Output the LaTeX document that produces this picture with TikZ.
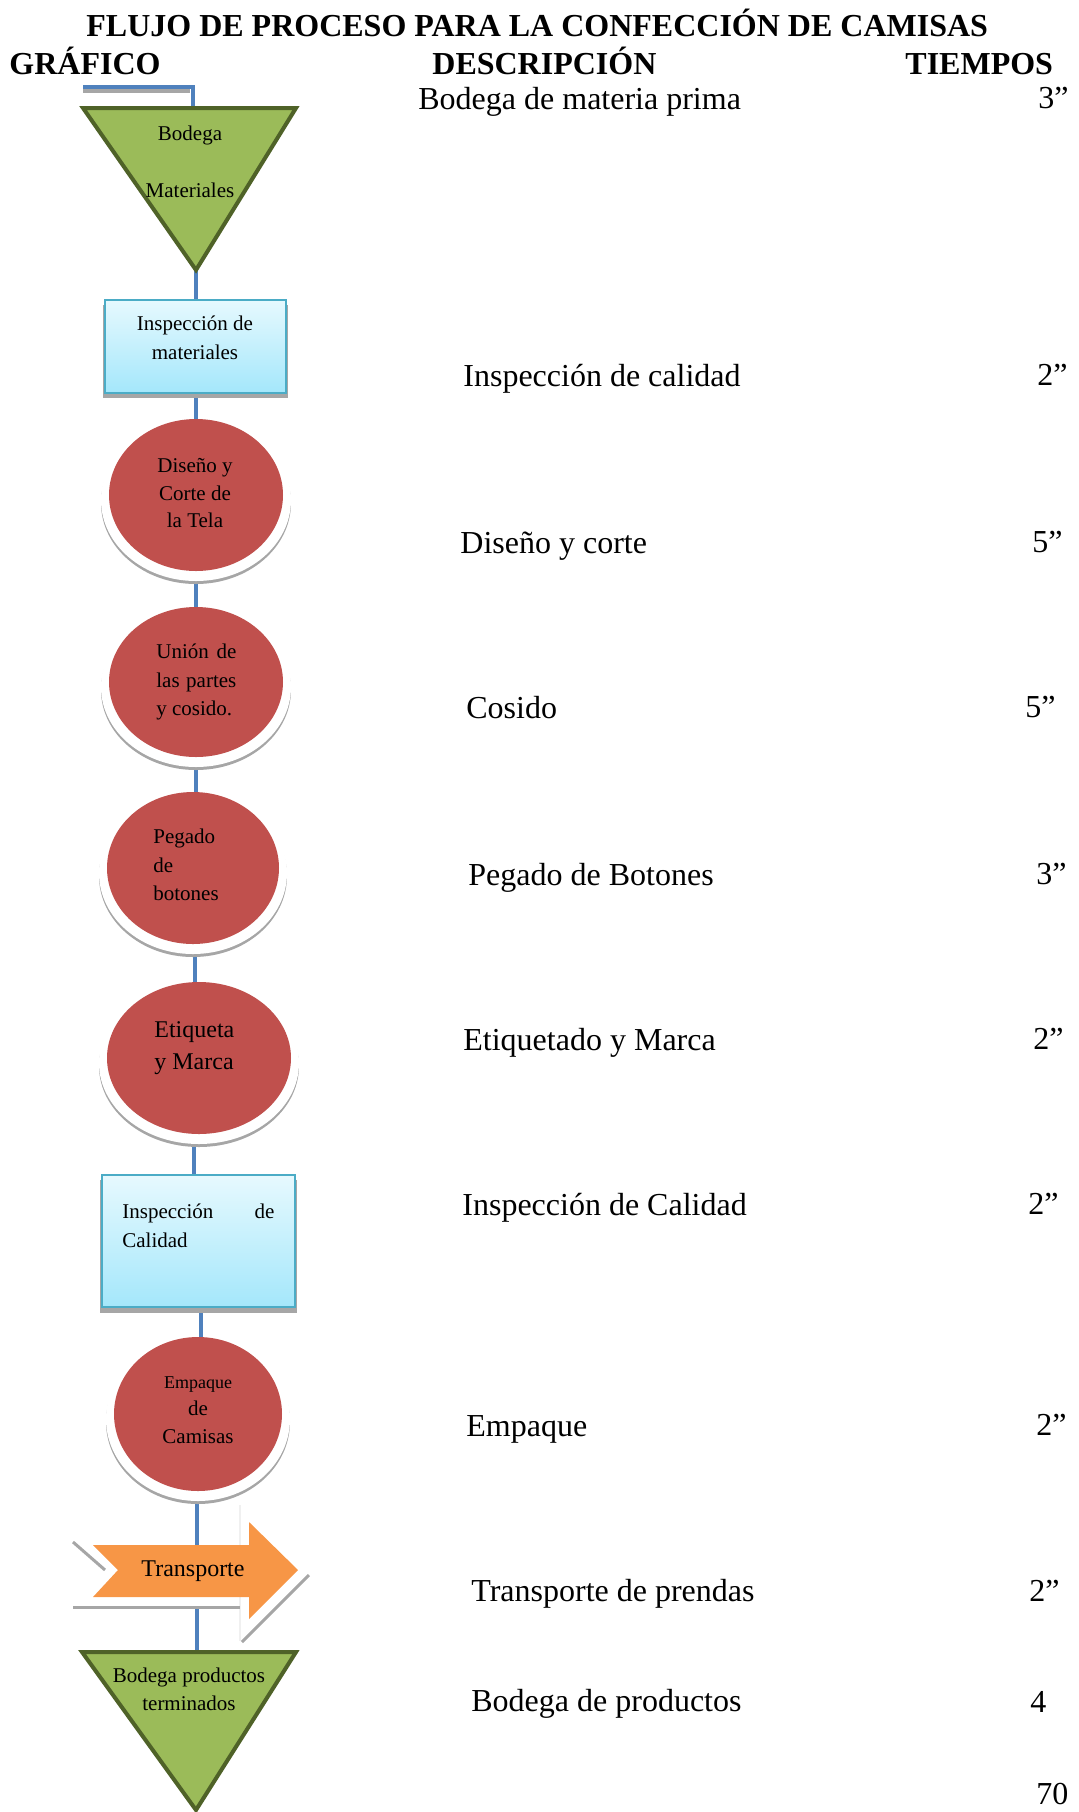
\documentclass[tikz,border=0pt]{standalone}
\usepackage{fontspec}
\setmainfont{Liberation Serif}
\usetikzlibrary{shapes.geometric,backgrounds,calc}
\definecolor{connblue}{HTML}{4F81BD}
\definecolor{redfill}{HTML}{C0504D}
\definecolor{greenfill}{HTML}{9BBB59}
\definecolor{greenline}{HTML}{4F6228}
\definecolor{boxline}{HTML}{4BACC6}
\definecolor{boxtop}{HTML}{E6F9FE}
\definecolor{boxbot}{HTML}{A4E7FB}
\definecolor{orangefill}{HTML}{F79646}
\definecolor{halogray}{HTML}{A6A6A6}
\newcommand\halo[4]{%
  \fill[halogray] (#1,#2+8) ellipse [x radius=#3, y radius=#4];
  \fill[white] (#1,#2+5) ellipse [x radius=#3, y radius=#4];
}
\begin{document}
\begin{tikzpicture}[x=0.5pt,y=-0.5pt,
  hdr/.style={anchor=base west, inner sep=0, font=\fontsize{16}{19}\selectfont\bfseries},
  desc/.style={anchor=base west, inner sep=0, font=\fontsize{16}{19}\selectfont},
  smallc/.style={anchor=base, inner sep=0, font=\fontsize{10.5}{13}\selectfont},
  smalll/.style={anchor=base west, inner sep=0, font=\fontsize{10.5}{13}\selectfont},
  conn/.style={draw=connblue, line width=2pt},
  redell/.style={ellipse, fill=redfill, inner sep=0, outer sep=0},
  boxst/.style={rectangle, draw=boxline, line width=1pt, top color=boxtop, bottom color=boxbot, inner sep=0, outer sep=0},
  tri/.style={fill=greenfill, draw=greenline, line width=2pt, line join=miter}
]
\useasboundingbox (0,0) rectangle (1078,1812);

% ---------- headers ----------
\node[hdr] (title) at (86,36) {FLUJO DE PROCESO PARA LA CONFECCIÓN DE CAMISAS};
\node[hdr] (hg) at (9,74) {GRÁFICO};
\node[hdr] (hd) at (432,74) {DESCRIPCIÓN};
\node[hdr] (ht) at (905,74) {TIEMPOS};

% ---------- descriptions and times ----------
\node[desc] (d1) at (418,109) {Bodega de materia prima};
\node[desc] (s1) at (1038,108) {3”};
\node[desc] (d2) at (463,386) {Inspección de calidad};
\node[desc] (s2) at (1037,385) {2”};
\node[desc] (d3) at (460,553) {Diseño y corte};
\node[desc] (s3) at (1032,552) {5”};
\node[desc] (d4) at (466,718) {Cosido};
\node[desc] (s4) at (1025,717) {5”};
\node[desc] (d5) at (468,885) {Pegado de Botones};
\node[desc] (s5) at (1036,884) {3”};
\node[desc] (d6) at (463,1050) {Etiquetado y Marca};
\node[desc] (s6) at (1033,1049) {2”};
\node[desc] (d7) at (462,1215) {Inspección de Calidad};
\node[desc] (s7) at (1028,1214) {2”};
\node[desc] (d8) at (466,1436) {Empaque};
\node[desc] (s8) at (1036,1435) {2”};
\node[desc] (d9) at (471,1601) {Transporte de prendas};
\node[desc] (s9) at (1029,1601) {2”};
\node[desc] (d10) at (471,1711) {Bodega de productos};
\node[desc] (s10) at (1030,1712) {4};
\node[desc] (tot) at (1036,1804) {70};

% ---------- triangle 1 ----------
\coordinate (start) at (83,87);
\coordinate (t1top) at (193,110);
\coordinate (t1a) at (83,108);
\coordinate (t1b) at (296,108);
\coordinate (t1c) at (196,270);
\draw[tri] (t1a) -- (t1b) -- (t1c) -- cycle;
\node[smallc] (t1l1) at (190,140) {Bodega};
\node[smallc] (t1l2) at (190,197) {Materiales};

% ---------- box 1 ----------
\fill[halogray] (103,305) rectangle (288,398);
\node[boxst, minimum width=90.5pt, minimum height=46.5pt] (b1) at (195.5,346.5) {};
\node[smallc] (b1l1) at (195,330) {Inspección de};
\node[smallc] (b1l2) at (195,359) {materiales};

% ---------- circle 1 ----------
\halo{196}{495}{47.5pt}{40.5pt}
\node[redell, minimum width=87pt, minimum height=76pt] (c1) at (196,495) {};
\node[smallc] (c1l1) at (195,472) {Diseño y};
\node[smallc] (c1l2) at (195,500) {Corte de};
\node[smallc] (c1l3) at (195,527) {la Tela};

% ---------- circle 2 ----------
\halo{196}{682}{47.5pt}{40pt}
\node[redell, minimum width=87pt, minimum height=75pt] (c2) at (196,682) {};
\node[smalll] (c2l1) at (156,658) {\makebox[40pt][s]{Unión de}};
\node[smalll] (c2l2) at (156,687) {\makebox[40pt][s]{las partes}};
\node[smalll] (c2l3) at (156,715) {y cosido.};

% ---------- circle 3 ----------
\halo{193}{868}{47pt}{40.5pt}
\node[redell, minimum width=86pt, minimum height=76pt] (c3) at (193,868) {};
\node[smalll] (c3l1) at (153,843) {Pegado};
\node[smalll] (c3l2) at (153,872) {de};
\node[smalll] (c3l3) at (153,900) {botones};

% ---------- circle 4 ----------
\halo{199}{1058}{50pt}{40.5pt}
\node[redell, minimum width=92pt, minimum height=76pt] (c4) at (199,1058) {};
\node[smalll, font=\fontsize{12}{14}\selectfont] (c4l1) at (154,1037) {Etiqueta};
\node[smalll, font=\fontsize{12}{14}\selectfont] (c4l2) at (154,1069) {y Marca};

% ---------- box 2 ----------
\fill[halogray] (100,1180) rectangle (297,1313);
\node[boxst, minimum width=96.5pt, minimum height=66pt] (b2) at (198.5,1241) {};
\node[smalll] (b2l1) at (122,1218) {\makebox[76pt][s]{Inspección de}};
\node[smalll] (b2l2) at (122,1247) {Calidad};

% ---------- circle 5 ----------
\halo{198}{1414}{46pt}{41pt}
\node[redell, minimum width=84pt, minimum height=77pt] (c5) at (198,1414) {};
\node[smallc, font=\fontsize{9}{11}\selectfont] (c5l1) at (198,1388) {Empaque};
\node[smallc] (c5l2) at (198,1415) {de};
\node[smallc] (c5l3) at (198,1443) {Camisas};

% ---------- transport arrow ----------
\draw[gray!12, line width=0.8pt] (240,1505) -- (240,1641);
\draw[halogray, line width=1.5pt] (73,1542) -- (105,1570);
\draw[halogray, line width=1.5pt] (73,1607) -- (240,1607);
\draw[halogray, line width=1.5pt] (242,1642) -- (309,1575);
\fill[orangefill] (93,1545) -- (118,1570) -- (93,1597) -- (249,1597) -- (249,1619)
  -- (298,1570) -- (249,1522) -- (249,1545) -- cycle;
\node[anchor=base, inner sep=0, font=\fontsize{12}{14}\selectfont] (trt) at (193,1576) {Transporte};
\coordinate (arT) at (197,1545);
\coordinate (arB) at (197,1607);

% ---------- triangle 2 ----------
\coordinate (t2top) at (197,1654);
\coordinate (t2a) at (82,1652);
\coordinate (t2b) at (296,1652);
\coordinate (t2c) at (196,1810);
\draw[tri] (t2a) -- (t2b) -- (t2c) -- cycle;
\node[smallc] (t2l1) at (189,1682) {Bodega productos};
\node[smallc] (t2l2) at (189,1710) {terminados};

% ---------- connectors ----------
\begin{pgfonlayer}{background}
\draw[halogray, line width=2pt] ($(start)+(0,4)$) -- ++(107,0);
\draw[conn] (start) -| (t1top);
\draw[conn] (t1c) -- (t1c |- b1.north);
\draw[conn] (b1.south) -- (b1.south |- c1.north);
\draw[conn] (c1.south) -- (c1.south |- c2.north);
\draw[conn] (c2.south) -- (c2.south |- c3.north);
\draw[conn] ($(c3.south)+(2,0)$) -- ($(c3.south |- c4.north)+(2,0)$);
\draw[conn] ($(c4.south)+(-5,0)$) -- ($(c4.south |- b2.north)+(-5,0)$);
\draw[conn] ($(b2.south)+(2,0)$) -- ($(b2.south |- c5.north)+(2,0)$);
\draw[conn] ($(c5.south)+(-1,0)$) -- (arT);
\draw[conn] (arB) -- (t2top);
\end{pgfonlayer}
\end{tikzpicture}
\end{document}
